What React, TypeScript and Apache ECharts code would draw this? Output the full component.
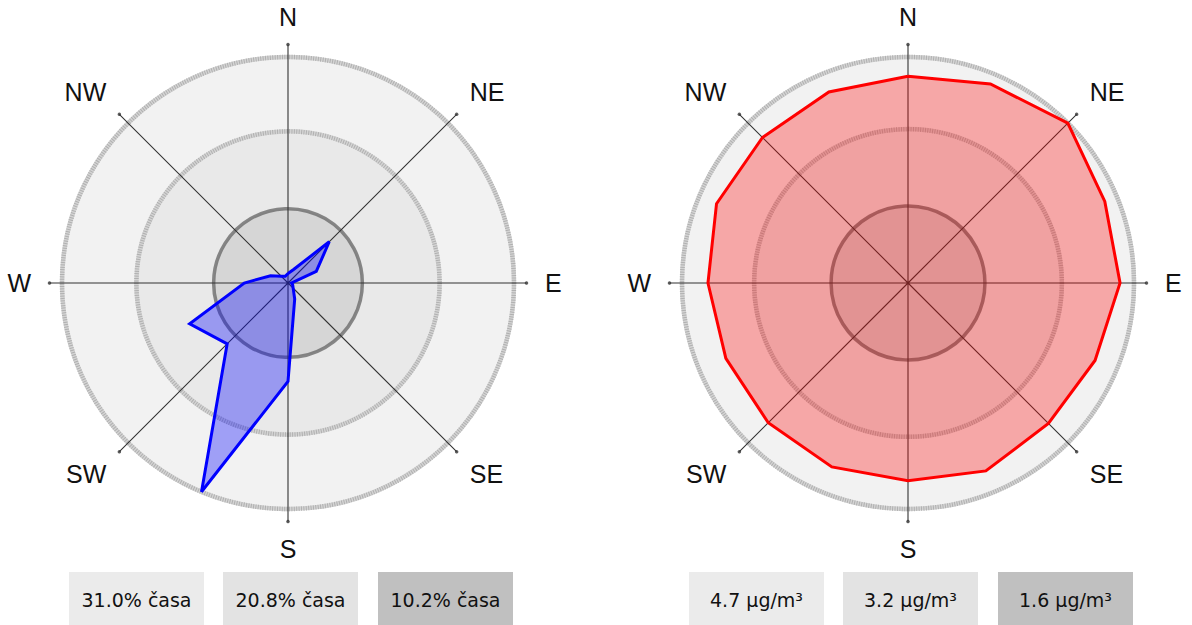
import React, { useEffect, useRef } from "react";
import * as echarts from "echarts";

// Sixteen compass sectors, clockwise from north
const DIRECTIONS = ["N", "NNE", "NE", "ENE", "E", "ESE", "SE", "SSE", "S", "SSW", "SW", "WSW", "W", "WNW", "NW", "NNW"];

// Share of time the wind blows from each sector (%)
const WIND_FREQUENCY = [1.3, 2.0, 8.0, 4.2, 0.5, 0.7, 1.0, 2.4, 13.5, 31.0, 11.8, 14.6, 6.0, 2.6, 1.3, 1.0];

// Mean concentration for each sector (µg/m³)
const CONCENTRATION = [4.3, 4.48, 4.7, 4.43, 4.41, 4.21, 4.13, 4.23, 4.11, 4.14, 4.11, 4.1, 4.16, 4.31, 4.28, 4.3];

// Reference rings, outermost first
const FREQUENCY_RINGS = [31.0, 20.8, 10.2];
const CONCENTRATION_RINGS = [4.7, 3.2, 1.6];

const FREQUENCY_RING_LABELS = FREQUENCY_RINGS.map((v) => `${v.toFixed(1)}% časa`);
const CONCENTRATION_RING_LABELS = CONCENTRATION_RINGS.map((v) => `${v.toFixed(1)} µg/m³`);

// Compass geometry: one sector every 22.5°, labelled spokes every 45°
const SECTOR_DEG = 360 / DIRECTIONS.length;
const sectorAngle = (i: number) => i * SECTOR_DEG;

// Drawing constants
const W = 1192;
const H = 625;
const AXIS_RADIUS = 238.5; // spokes reach this far
const RING_RADIUS = 226; // outermost ring
const CENTERS: [number, number][] = [
  [288, 283],
  [908, 283],
];
const DISK_FILLS = ["#f2f2f2", "#e9e9e9", "#d6d6d6"];
const BOX_FILLS = ["#ebebeb", "#e3e3e3", "#c0c0c0"];
const BOX_X = [69, 223, 378];
const BOX_W = 135;
const BOX_Y = 572;
const BOX_H = 53;

function ringRenderer(params: any, api: any) {
  const c = api.coord([0, 0]);
  const p = api.coord([api.value(0), 0]);
  const r = Math.hypot(p[0] - c[0], p[1] - c[1]);
  const i = params.dataIndex;
  const children: any[] = [
    { type: "circle", shape: { cx: c[0], cy: c[1], r }, style: { fill: DISK_FILLS[i], stroke: null } },
  ];
  if (i === 2) {
    children.push({
      type: "circle",
      shape: { cx: c[0], cy: c[1], r },
      style: { fill: null, stroke: "rgba(105,105,105,0.78)", lineWidth: 3.5 },
    });
  } else {
    children.push({
      type: "circle",
      shape: { cx: c[0], cy: c[1], r },
      style: { fill: null, stroke: "#d4d4d4", lineWidth: 4.5 },
    });
    children.push({
      type: "circle",
      shape: { cx: c[0], cy: c[1], r },
      style: { fill: null, stroke: "#b0b0b0", lineWidth: 4.5, lineDash: [1, 1.4] },
    });
  }
  return { type: "group", children };
}

function buildPolar(idx: number, rings: number[], values: number[], color: string, area: string) {
  const max = (rings[0] * AXIS_RADIUS) / RING_RADIUS;
  const polar = { center: CENTERS[idx], radius: AXIS_RADIUS };
  const angleAxis = {
    polarIndex: idx,
    type: "value",
    min: 0,
    max: 360,
    interval: 45,
    startAngle: 90,
    clockwise: true,
    z: 2,
    axisLine: { show: false },
    axisTick: { show: false },
    axisLabel: {
      margin: 18.5,
      fontSize: 25,
      lineHeight: 18,
      fontFamily: "Liberation Sans, Arial, sans-serif",
      color: "#111",
      formatter: (v: number) => DIRECTIONS[Math.round(v / SECTOR_DEG) % DIRECTIONS.length],
    },
    splitLine: { show: true, lineStyle: { color: "#333", width: 1.1 } },
  };
  const radiusAxis = {
    polarIndex: idx,
    type: "value",
    min: 0,
    max,
    axisLine: { show: false },
    axisTick: { show: false },
    axisLabel: { show: false },
    splitLine: { show: false },
  };
  const ringSeries = {
    type: "custom",
    coordinateSystem: "polar",
    polarIndex: idx,
    z: 1,
    silent: true,
    data: rings.map((v) => [v, 0]),
    renderItem: ringRenderer,
  };
  // closed outline: repeat the northern sector at 360°
  const pts = values.map((v, i) => [v, sectorAngle(i)]);
  pts.push([values[0], 360]);
  const roseSeries = {
    type: "line",
    coordinateSystem: "polar",
    polarIndex: idx,
    z: 3,
    data: pts,
    showSymbol: false,
    symbol: "none",
    smooth: false,
    clip: false,
    lineStyle: { color, width: 3, join: "miter" },
    areaStyle: { color: area, opacity: 1 },
  };
  const spokeEnds = {
    type: "scatter",
    coordinateSystem: "polar",
    polarIndex: idx,
    z: 2,
    symbolSize: 3.5,
    itemStyle: { color: "#333" },
    silent: true,
    data: [0, 45, 90, 135, 180, 225, 270, 315].map((a) => [max, a]),
  };
  return { polar, angleAxis, radiusAxis, series: [ringSeries, roseSeries, spokeEnds] };
}

function legendGraphics(offsetX: number, labels: string[]) {
  const out: any[] = [];
  labels.forEach((label, i) => {
    out.push({
      type: "rect",
      shape: { x: offsetX + BOX_X[i], y: BOX_Y, width: BOX_W, height: BOX_H },
      style: { fill: BOX_FILLS[i] },
      silent: true,
    });
    out.push({
      type: "text",
      x: offsetX + BOX_X[i] + BOX_W / 2,
      y: BOX_Y + 28,
      style: {
        text: label,
        fill: "#111",
        fontSize: 19,
        fontFamily: "DejaVu Sans, Verdana, sans-serif",
        align: "center",
        verticalAlign: "middle",
      },
      silent: true,
    });
  });
  return out;
}

export default function App() {
  const ref = useRef<HTMLDivElement>(null);

  useEffect(() => {
    if (!ref.current) return;
    const chart = echarts.init(ref.current, undefined, { renderer: "svg" });
    const left = buildPolar(0, FREQUENCY_RINGS, WIND_FREQUENCY, "#0000ff", "rgba(0,0,255,0.34)");
    const right = buildPolar(1, CONCENTRATION_RINGS, CONCENTRATION, "#ff0000", "rgba(255,0,0,0.31)");
    chart.setOption({
      animation: false,
      backgroundColor: "#ffffff",
      polar: [left.polar, right.polar],
      angleAxis: [left.angleAxis, right.angleAxis],
      radiusAxis: [left.radiusAxis, right.radiusAxis],
      series: [...left.series, ...right.series],
      graphic: [...legendGraphics(0, FREQUENCY_RING_LABELS), ...legendGraphics(620, CONCENTRATION_RING_LABELS)],
    });
    return () => chart.dispose();
  }, []);

  return (
    <div
      ref={ref}
      style={{ position: "fixed", left: 0, top: 0, width: W, height: H, background: "#fff" }}
    />
  );
}
